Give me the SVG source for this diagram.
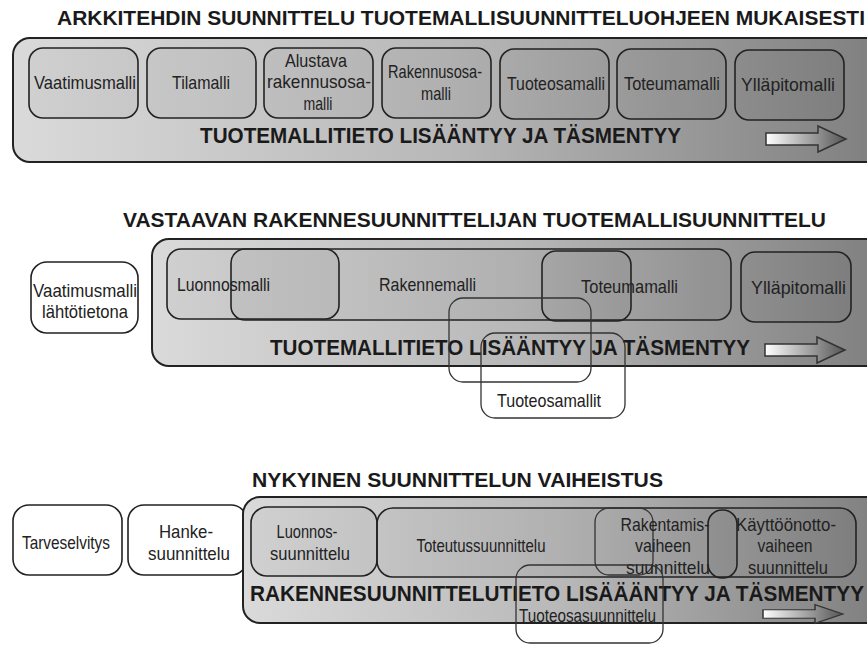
<svg xmlns="http://www.w3.org/2000/svg" xmlns:xlink="http://www.w3.org/1999/xlink" width="867" height="646" viewBox="0 0 867 646">
<style>
.h{font-family:"Liberation Sans",Arial,sans-serif;font-weight:bold;font-size:20px;fill:#1a1a1a}
.b{font-family:"Liberation Sans",Arial,sans-serif;font-weight:bold;font-size:22px;fill:#1a1a1a}
.t{font-family:"Liberation Sans",Arial,sans-serif;font-size:19px;fill:#222;text-anchor:middle}
.band{fill:url(#bandG);stroke:#222;stroke-width:2}
.box{fill:#000;fill-opacity:0.04;stroke:#222;stroke-width:1.6}
.wbox{fill:#fff;stroke:#222;stroke-width:1.6}
.ob{fill:none;stroke:#333;stroke-width:1.3}
.arr{fill:url(#arrG);stroke:#333;stroke-width:1.5}
</style>
<defs>
<linearGradient id="bandG" x1="0" y1="0" x2="1" y2="0">
<stop offset="0" stop-color="#dadada"/>
<stop offset="0.5" stop-color="#b8b8b8"/>
<stop offset="1" stop-color="#7f7f7f"/>
</linearGradient>
<linearGradient id="arrG" x1="0" y1="0" x2="1" y2="0">
<stop offset="0" stop-color="#ffffff"/>
<stop offset="1" stop-color="#555555"/>
</linearGradient>
<path id="arrow" d="M0,-6 H52 V-13 L80,0 L52,13 V6 H0 Z"/>
</defs>
<rect width="867" height="646" fill="#fff"/>

<!-- Section 1 -->
<g id="sec1-title"><text class="h" x="57" y="25" textLength="808" lengthAdjust="spacingAndGlyphs">ARKKITEHDIN SUUNNITTELU TUOTEMALLISUUNNITTELUOHJEEN MUKAISESTI</text></g>
<g id="sec1-band">
<rect class="band" x="13" y="38" width="870" height="124" rx="17"/>
<text class="b" x="200" y="143" textLength="481" lengthAdjust="spacingAndGlyphs">TUOTEMALLITIETO LISÄÄNTYY JA TÄSMENTYY</text>
<use href="#arrow" xlink:href="#arrow" class="arr" x="766" y="139"/>
</g>
<g id="s1-vaatimusmalli"><rect class="box" x="29" y="48" width="109" height="70" rx="14"/><text class="t" x="85" y="89" textLength="102" lengthAdjust="spacingAndGlyphs">Vaatimusmalli</text></g>
<g id="s1-tilamalli"><rect class="box" x="147" y="48" width="109" height="70" rx="14"/><text class="t" x="201" y="89" textLength="58" lengthAdjust="spacingAndGlyphs">Tilamalli</text></g>
<g id="s1-alustava"><rect class="box" x="264" y="48" width="109" height="70" rx="14"/>
<text class="t" x="316" y="67" textLength="62" lengthAdjust="spacingAndGlyphs">Alustava</text>
<text class="t" x="319" y="88" textLength="104" lengthAdjust="spacingAndGlyphs">rakennusosa-</text>
<text class="t" x="318" y="110" textLength="29" lengthAdjust="spacingAndGlyphs">malli</text></g>
<g id="s1-rakennusosamalli"><rect class="box" x="382" y="48" width="109" height="70" rx="14"/>
<text class="t" x="435" y="78" textLength="94" lengthAdjust="spacingAndGlyphs">Rakennusosa-</text>
<text class="t" x="436" y="100" textLength="30" lengthAdjust="spacingAndGlyphs">malli</text></g>
<g id="s1-tuoteosamalli"><rect class="box" x="500" y="49" width="109" height="70" rx="14"/><text class="t" x="556" y="90" textLength="98" lengthAdjust="spacingAndGlyphs">Tuoteosamalli</text></g>
<g id="s1-toteumamalli"><rect class="box" x="617" y="49" width="109" height="70" rx="14"/><text class="t" x="672" y="90" textLength="96" lengthAdjust="spacingAndGlyphs">Toteumamalli</text></g>
<g id="s1-yllapitomalli"><rect class="box" x="735" y="50" width="109" height="70" rx="14"/><text class="t" x="788" y="91" textLength="94" lengthAdjust="spacingAndGlyphs">Ylläpitomalli</text></g>

<!-- Section 2 -->
<g id="sec2-title"><text class="h" x="123" y="227" textLength="703" lengthAdjust="spacingAndGlyphs">VASTAAVAN RAKENNESUUNNITTELIJAN TUOTEMALLISUUNNITTELU</text></g>
<g id="s2-vaatimusmalli"><rect class="wbox" x="31" y="262" width="107" height="71" rx="16"/>
<text class="t" x="85" y="297" textLength="104" lengthAdjust="spacingAndGlyphs">Vaatimusmalli</text>
<text class="t" x="85" y="318" textLength="86" lengthAdjust="spacingAndGlyphs">lähtötietona</text></g>
<g id="sec2-band">
<rect class="band" x="152" y="239" width="730" height="127" rx="17"/>
<text class="b" x="270" y="355" textLength="480" lengthAdjust="spacingAndGlyphs">TUOTEMALLITIETO LISÄÄNTYY JA TÄSMENTYY</text>
<use href="#arrow" xlink:href="#arrow" class="arr" x="765" y="350"/>
</g>
<g id="s2-luonnosmalli"><rect class="box" x="167" y="249" width="172" height="70" rx="14"/><text class="t" x="223.5" y="291" textLength="93" lengthAdjust="spacingAndGlyphs">Luonnosmalli</text></g>
<g id="s2-rakennemalli"><rect class="box" x="231" y="249" width="500" height="71" rx="14"/><text class="t" x="427.5" y="291" textLength="97" lengthAdjust="spacingAndGlyphs">Rakennemalli</text></g>
<g id="s2-toteumamalli"><rect class="box" x="542" y="251" width="89" height="70" rx="14"/><text class="t" x="629.5" y="293" textLength="97" lengthAdjust="spacingAndGlyphs">Toteumamalli</text></g>
<g id="s2-yllapitomalli"><rect class="box" x="741" y="252" width="110" height="70" rx="14"/><text class="t" x="798.5" y="294" textLength="95" lengthAdjust="spacingAndGlyphs">Ylläpitomalli</text></g>
<g id="s2-tuoteosamallit">
<rect class="ob" x="449" y="298" width="142" height="84" rx="14"/>
<rect class="ob" x="481" y="333" width="144" height="85" rx="14"/>
<text class="t" x="549" y="407" textLength="104" lengthAdjust="spacingAndGlyphs">Tuoteosamallit</text></g>

<!-- Section 3 -->
<g id="sec3-title"><text class="h" x="252" y="487" textLength="411" lengthAdjust="spacingAndGlyphs">NYKYINEN SUUNNITTELUN VAIHEISTUS</text></g>
<g id="s3-tarveselvitys"><rect class="wbox" x="13" y="505" width="109" height="70" rx="16"/><text class="t" x="66" y="549" textLength="88" lengthAdjust="spacingAndGlyphs">Tarveselvitys</text></g>
<g id="s3-hanke"><rect class="wbox" x="128" y="505" width="119" height="70" rx="16"/>
<text class="t" x="186" y="538" textLength="54" lengthAdjust="spacingAndGlyphs">Hanke-</text>
<text class="t" x="189" y="560" textLength="82" lengthAdjust="spacingAndGlyphs">suunnittelu</text></g>
<g id="sec3-band">
<rect class="band" x="243" y="497" width="640" height="126" rx="17"/>
<text class="b" x="250" y="601" textLength="614" lengthAdjust="spacingAndGlyphs">RAKENNESUUNNITTELUTIETO LISÄÄÄNTYY JA TÄSMENTYY</text>
<use href="#arrow" xlink:href="#arrow" class="arr" transform="translate(763,614) scale(1,0.72)"/>
</g>
<g id="s3-luonnos"><rect class="box" x="251" y="507" width="126" height="69" rx="16"/>
<text class="t" x="307" y="538" textLength="61" lengthAdjust="spacingAndGlyphs">Luonnos-</text>
<text class="t" x="310" y="560" textLength="80" lengthAdjust="spacingAndGlyphs">suunnittelu</text></g>
<g id="s3-toteutus"><rect class="box" x="377" y="508" width="479" height="69" rx="16"/><text class="t" x="481" y="552" textLength="129" lengthAdjust="spacingAndGlyphs">Toteutussuunnittelu</text></g>
<g id="s3-rakentamis"><rect class="ob" x="595" y="508" width="58" height="67" rx="14"/>
<text class="t" x="665" y="531" textLength="89" lengthAdjust="spacingAndGlyphs">Rakentamis-</text>
<text class="t" x="663" y="552" textLength="56" lengthAdjust="spacingAndGlyphs">vaiheen</text>
<text class="t" x="668" y="574" textLength="84" lengthAdjust="spacingAndGlyphs">suunnittelu</text></g>
<g id="s3-kayttoonotto"><rect class="box" x="708" y="510" width="29" height="68" rx="14"/>
<text class="t" x="786" y="531" textLength="100" lengthAdjust="spacingAndGlyphs">Käyttöönotto-</text>
<text class="t" x="785" y="552" textLength="55" lengthAdjust="spacingAndGlyphs">vaiheen</text>
<text class="t" x="788" y="574" textLength="80" lengthAdjust="spacingAndGlyphs">suunnittelu</text></g>
<g id="s3-tuoteosasuunnittelu"><rect class="ob" x="516" y="565" width="147" height="78" rx="14"/><text class="t" x="587.5" y="622" textLength="137" lengthAdjust="spacingAndGlyphs">Tuoteosasuunnittelu</text></g>
</svg>
